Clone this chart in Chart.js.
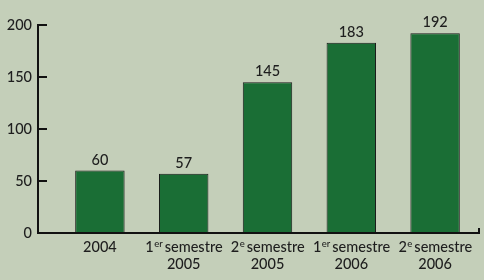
<!DOCTYPE html>
<html>
<head>
<meta charset="utf-8">
<script src="https://cdn.jsdelivr.net/npm/chart.js@4"></script>
<style>
  html, body { margin: 0; padding: 0; background: #c4cfb9; }
  #wrap { width: 484px; height: 280px; position: relative; }
</style>
</head>
<body>
<div id="wrap"><canvas id="chart"></canvas></div>
<script>
// data
const categories = [['2004'], ['1er semestre', '2005'], ['2e semestre', '2005'], ['1er semestre', '2006'], ['2e semestre', '2006']];
const values = [60, 57, 145, 183, 192];
const yTicks = [0, 50, 100, 150, 200];

const FONT = 'Lato, "Open Sans", sans-serif';
const INK = '#1e1e1e';

// draws the axis lines with inward tick marks, offset left of the plot
const axesPlugin = {
    id: 'axes',
    afterDraw(chart) {
        const { ctx, chartArea, scales } = chart;
        const y = scales.y;
        const ax = chartArea.left - 20;
        const y0 = y.getPixelForValue(0);
        ctx.save();
        ctx.strokeStyle = '#111';
        ctx.lineWidth = 2;
        ctx.beginPath();
        ctx.moveTo(ax, y.getPixelForValue(yTicks[yTicks.length - 1]) - 1);
        ctx.lineTo(ax, y0);
        ctx.lineTo(chartArea.right + 2, y0);
        ctx.lineTo(chartArea.right + 2, y0 - 5);
        yTicks.forEach(v => {
            if (v === 0) return;
            const py = y.getPixelForValue(v);
            ctx.moveTo(ax, py);
            ctx.lineTo(ax + 9, py);
        });
        ctx.stroke();
        ctx.restore();
    }
};

// value above each bar
const valuePlugin = {
    id: 'values',
    afterDatasetsDraw(chart) {
        const { ctx } = chart;
        const meta = chart.getDatasetMeta(0);
        ctx.save();
        ctx.font = '500 14.5px ' + FONT;
        ctx.fillStyle = INK;
        ctx.textAlign = 'center';
        ctx.textBaseline = 'alphabetic';
        meta.data.forEach((bar, i) => {
            ctx.fillText(String(values[i]), bar.x, bar.y - 6);
        });
        ctx.restore();
    }
};

// category labels, with "1er" / "2e" drawn as superscripts
function drawLine(ctx, text, cx, baseline) {
    const big = '500 14.5px ' + FONT;
    const small = '500 9.5px ' + FONT;
    const m = text.match(/^(\d)(er|e) (.*)$/);
    if (!m) {
        ctx.font = big;
        ctx.textAlign = 'center';
        ctx.fillText(text, cx, baseline);
        return;
    }
    ctx.font = big;
    const w1 = ctx.measureText(m[1]).width;
    const w3 = ctx.measureText(m[3]).width;
    ctx.font = small;
    const w2 = ctx.measureText(m[2]).width;
    const gap = 2;
    let x = cx - (w1 + w2 + gap + w3) / 2;
    ctx.textAlign = 'left';
    ctx.font = big;
    ctx.fillText(m[1], x, baseline);
    x += w1 + 0.5;
    ctx.font = small;
    ctx.fillText(m[2], x, baseline - 5);
    x += w2 + gap;
    ctx.font = big;
    ctx.fillText(m[3], x, baseline);
}

const xLabelPlugin = {
    id: 'xlabels',
    afterDraw(chart) {
        const { ctx, chartArea, scales } = chart;
        ctx.save();
        ctx.fillStyle = INK;
        ctx.textBaseline = 'alphabetic';
        chart.data.labels.forEach((lines, i) => {
            const cx = scales.x.getPixelForValue(i);
            lines.forEach((line, j) => {
                drawLine(ctx, line, cx, chartArea.bottom + 18.5 + j * 17.5);
            });
        });
        ctx.restore();
    }
};

new Chart(document.getElementById('chart'), {
    type: 'bar',
    data: {
        labels: categories,
        datasets: [{
            data: values,
            backgroundColor: '#1a6e35',
            borderColor: '#1b1b1b',
            borderWidth: 1,
            borderSkipped: 'bottom',
            barPercentage: 0.59,
            categoryPercentage: 1
        }]
    },
    options: {
        responsive: true,
        maintainAspectRatio: false,
        animation: false,
        layout: { padding: { top: 25, right: 7, bottom: 47, left: 0 } },
        plugins: {
            legend: { display: false },
            tooltip: { enabled: false }
        },
        scales: {
            x: {
                display: false
            },
            y: {
                min: 0,
                max: 200,
                grid: { display: false, drawTicks: false },
                border: { display: false },
                ticks: {
                    stepSize: 50,
                    padding: 26,
                    color: INK,
                    font: { family: FONT, size: 14.5, weight: '500' }
                },
                afterFit(scale) {
                    scale.width = 58;
                    // tick padding would otherwise push the plot down
                    scale.paddingTop = 0;
                    scale.paddingBottom = 0;
                }
            }
        }
    },
    plugins: [axesPlugin, valuePlugin, xLabelPlugin]
});
</script>
</body>
</html>
